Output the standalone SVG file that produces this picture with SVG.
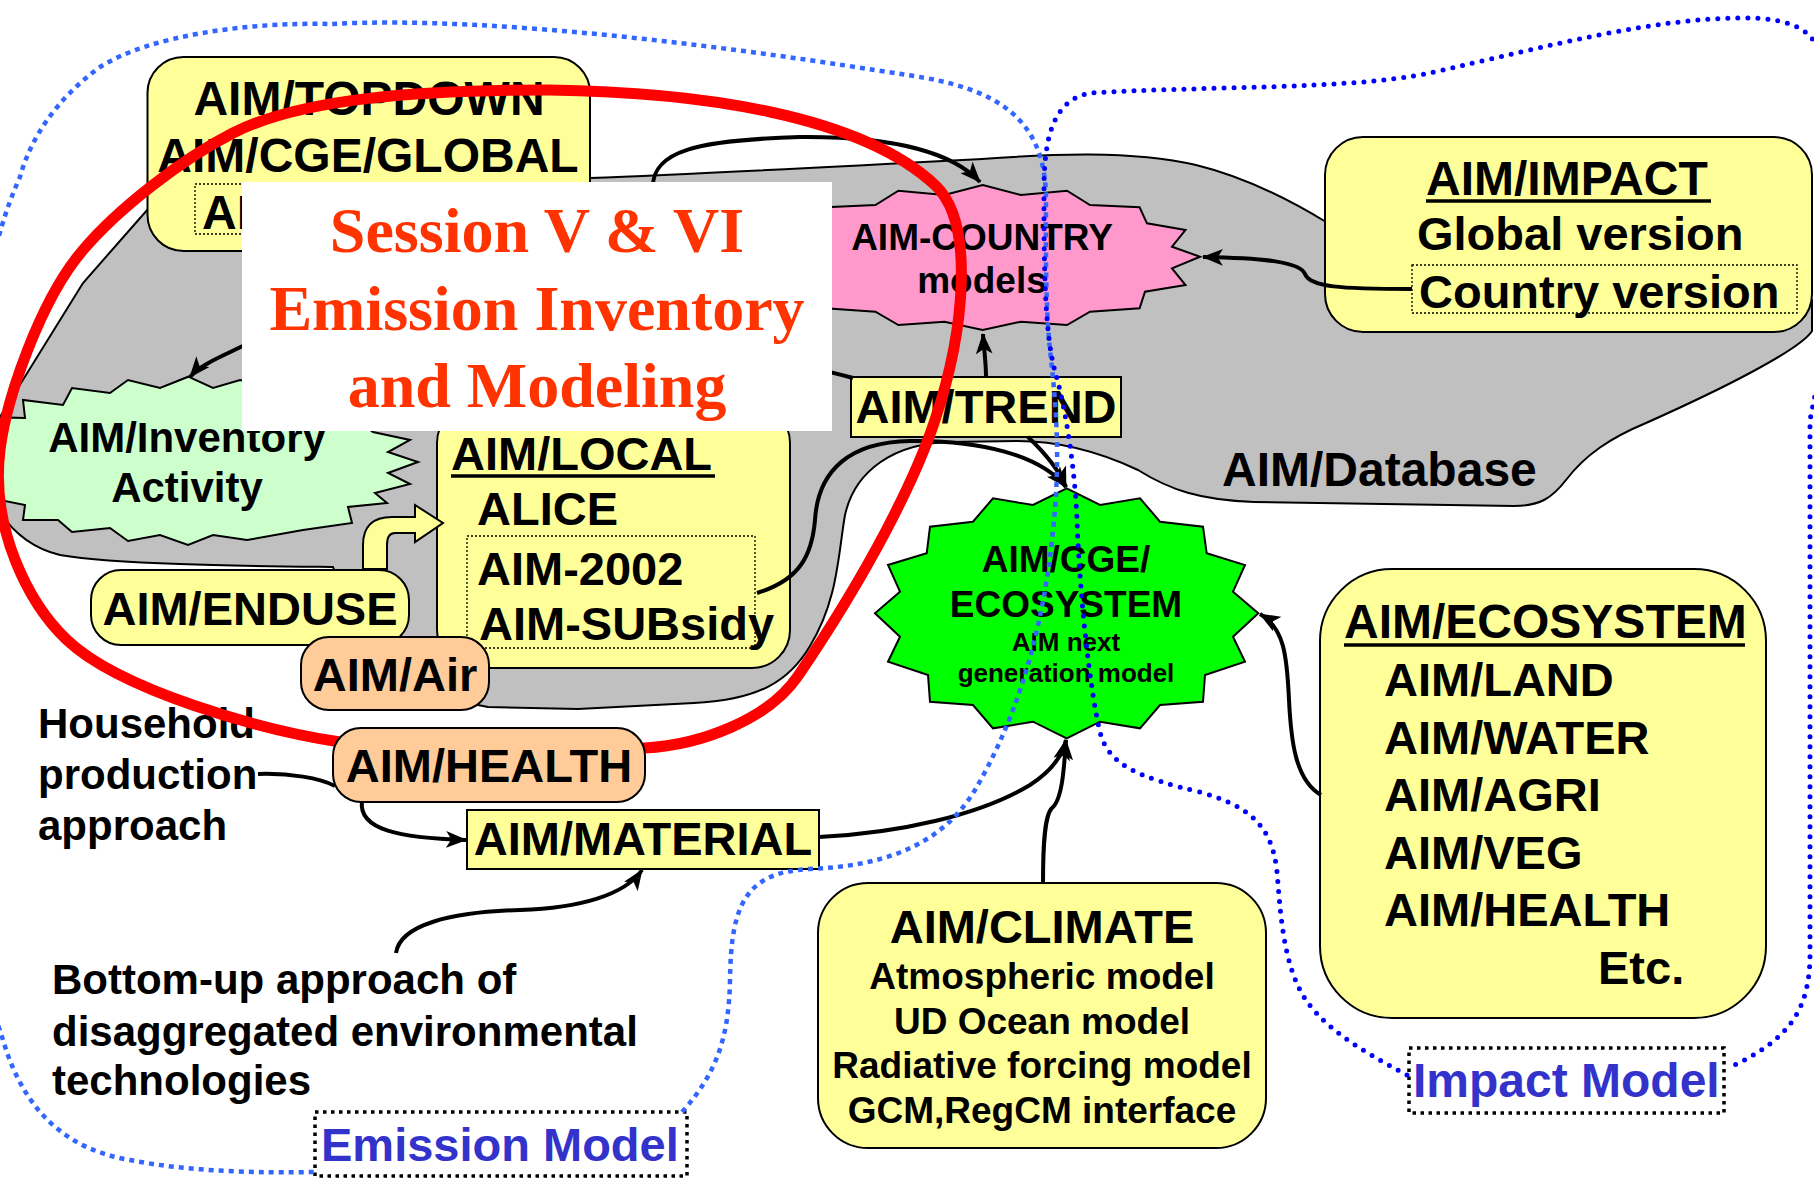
<svg xmlns="http://www.w3.org/2000/svg" width="1814" height="1179" viewBox="0 0 1814 1179">
<defs>
<style>
.t{font-family:"Liberation Sans",Arial,sans-serif;font-weight:bold;fill:#000}
.yb{fill:#FFFF99;stroke:#000;stroke-width:2}
.pb{fill:#FFCC99;stroke:#000;stroke-width:2}
.conn{fill:none;stroke:#000;stroke-width:4;marker-end:url(#arr)}
.line{fill:none;stroke:#000;stroke-width:4}
.dotbox{fill:none;stroke:#000;stroke-width:1.3;stroke-dasharray:2 2}
.mbox{fill:none;stroke:#000;stroke-width:3.5;stroke-dasharray:3.5 4.5}
.ul{stroke:#000;stroke-width:3.5}
.red{font-family:"Liberation Serif","Times New Roman",serif;font-weight:bold;fill:#FF3300;font-size:64px}
.blue{fill:#3333CC}
</style>
<marker id="arr" viewBox="0 0 20 16" refX="19" refY="8" markerWidth="21" markerHeight="17" markerUnits="userSpaceOnUse" orient="auto"><path d="M0,0 L20,8 L0,16 L5,8 z" fill="#000"/></marker>
</defs>
<rect width="1814" height="1179" fill="#fff"/>

<g id="region-database">
<path d="M590,178 C700,174 850,166 982,159 C1050,154 1130,150 1196,165 C1245,177 1290,200 1326,222 L1600,230 L1812,300 L1812,331 C1800,350 1720,390 1646,423 C1610,438 1585,455 1566,480 C1552,498 1540,506 1514,506 L1254,502 C1200,500 1170,490 1138,470 C1100,452 1060,441 1017,441 L950,442 C895,443 855,470 845,515 C838,555 838,600 810,646 C790,680 760,700 694,703 L578,709 L488,707 L350,680 L350,620 L333,567 C250,566 120,565 60,555 C30,548 10,530 -5,505 L-5,425 L83,283 L148,209 L300,200 Z" fill="#C0C0C0" stroke="#000" stroke-width="2"/>
<text class="t" x="1222" y="486" font-size="48">AIM/Database</text>
</g>

<g id="node-topdown">
<rect class="yb" x="147.5" y="57" width="442.5" height="194" rx="36"/>
<text class="t" x="369" y="115" font-size="48" text-anchor="middle">AIM/TOPDOWN</text>
<text class="t" x="368" y="172" font-size="48" text-anchor="middle">AIM/CGE/GLOBAL</text>
<rect class="dotbox" x="195" y="184" width="380" height="50"/>
<text class="t" x="202" y="229" font-size="48">AI</text>
</g>

<g id="node-country">
<polygon points="982.7,185 1021,195 1067,190.7 1090,205 1139.6,207.3 1147,223.3 1185.5,230 1172,246.7 1200,256.7 1172,268.3 1185.5,285 1145,291.7 1139.6,308.3 1090,311.7 1067,325 1021,321.7 982.7,330 944.4,321.7 898.4,325 875.4,311.7 825.8,308.3 820.4,291.7 779.9,285 793.4,268.3 765.4,256.7 793.4,246.7 779.9,230 818.4,223.3 825.8,207.3 875.4,205 898.4,190.7 944.4,195" fill="#FF99CC" stroke="#000" stroke-width="2"/>
<text class="t" x="982" y="250" font-size="37" text-anchor="middle">AIM-COUNTRY</text>
<text class="t" x="982" y="293" font-size="37" text-anchor="middle">models</text>
</g>

<g id="node-inventory">
<polygon points="188.3,376.7 213,388 240,380 290,392 320,382 345,400 370,405 360,422 373,432 410,440 388,452 418,462 388,473 410,484 375,493 387,503 348,507 352,523 303,530 247,540 213,535 188,545 160,535 128,541 110,528 72,532 58,520 23,520 25,505 -15,497 -15,417 25,418 23,400 63,405 72,388 110,393 128,380 160,388" fill="#CCFFCC" stroke="#000" stroke-width="2"/>
<text class="t" x="187" y="452" font-size="42" text-anchor="middle">AIM/Inventory</text>
<text class="t" x="187" y="502" font-size="42" text-anchor="middle">Activity</text>
</g>

<g id="node-local">
<rect class="yb" x="437" y="405" width="353" height="263" rx="38"/>
<text class="t" x="451" y="470" font-size="47">AIM/LOCAL</text>
<line class="ul" x1="451" y1="476" x2="715" y2="476"/>
<text class="t" x="477" y="525" font-size="47">ALICE</text>
<rect class="dotbox" x="467" y="536" width="288" height="112"/>
<text class="t" x="477" y="585" font-size="47">AIM-2002</text>
<text class="t" x="479" y="640" font-size="47">AIM-SUBsidy</text>
</g>

<g id="node-enduse">
<rect class="yb" x="91" y="570" width="318" height="75" rx="30"/>
<text class="t" x="250" y="625" font-size="47" text-anchor="middle">AIM/ENDUSE</text>
</g>

<g id="node-air">
<rect class="pb" x="301" y="637" width="188" height="73" rx="28"/>
<text class="t" x="395" y="691" font-size="47" text-anchor="middle">AIM/Air</text>
</g>

<g id="node-trend">
<rect class="yb" x="851" y="377" width="270" height="60"/>
<text class="t" x="986" y="423" font-size="47" text-anchor="middle">AIM/TREND</text>
</g>

<g id="node-material">
<rect class="yb" x="467" y="810" width="352" height="59"/>
<text class="t" x="643" y="855" font-size="47" text-anchor="middle">AIM/MATERIAL</text>
</g>

<g id="node-cge">
<polygon points="1066.7,488.3 1100,505 1140,498.3 1160,521.7 1203,526.7 1206.7,553.3 1245,565 1233,591.7 1258.3,613.3 1233,636.7 1245,661.7 1205,675 1203,701.7 1160,705 1140,728.3 1100,721.7 1066.7,738.3 1033,721.7 993,728.3 973,705 930,701.7 928,675 888,661.7 900,636.7 875,613.3 900,591.7 888,565 926.7,553.3 930,526.7 973,521.7 993,498.3 1033,505" fill="#00FF00" stroke="#000" stroke-width="2"/>
<text class="t" x="1066" y="572" font-size="37" text-anchor="middle">AIM/CGE/</text>
<text class="t" x="1066" y="617" font-size="37" text-anchor="middle">ECOSYSTEM</text>
<text class="t" x="1066" y="651" font-size="26" text-anchor="middle">AIM next</text>
<text class="t" x="1066" y="682" font-size="26" text-anchor="middle">generation model</text>
</g>

<g id="node-impact">
<rect class="yb" x="1325" y="137" width="487" height="195" rx="38"/>
<text class="t" x="1426" y="195" font-size="48">AIM/IMPACT</text>
<line class="ul" x1="1426" y1="201" x2="1711" y2="201"/>
<text class="t" x="1417" y="250" font-size="47">Global version</text>
<rect class="dotbox" x="1412" y="265" width="385" height="48"/>
<text class="t" x="1419" y="308" font-size="47">Country version</text>
</g>

<g id="node-ecosystem">
<rect class="yb" x="1320" y="569" width="446" height="449" rx="72"/>
<text class="t" x="1344" y="638" font-size="48">AIM/ECOSYSTEM</text>
<line class="ul" x1="1344" y1="645" x2="1745" y2="645"/>
<text class="t" x="1384" y="696" font-size="47">AIM/LAND</text>
<text class="t" x="1384" y="754" font-size="47">AIM/WATER</text>
<text class="t" x="1384" y="811" font-size="47">AIM/AGRI</text>
<text class="t" x="1384" y="869" font-size="47">AIM/VEG</text>
<text class="t" x="1384" y="926" font-size="47">AIM/HEALTH</text>
<text class="t" x="1598" y="984" font-size="47">Etc.</text>
</g>

<g id="node-climate">
<rect class="yb" x="818" y="883" width="448" height="265" rx="50"/>
<text class="t" x="1042" y="943" font-size="47" text-anchor="middle">AIM/CLIMATE</text>
<text class="t" x="1042" y="989" font-size="37" text-anchor="middle">Atmospheric model</text>
<text class="t" x="1042" y="1034" font-size="37" text-anchor="middle">UD Ocean model</text>
<text class="t" x="1042" y="1078" font-size="37" text-anchor="middle">Radiative forcing model</text>
<text class="t" x="1042" y="1123" font-size="37" text-anchor="middle">GCM,RegCM interface</text>
</g>

<g id="label-household">
<text class="t" x="38" y="738" font-size="42">Household</text>
<text class="t" x="38" y="789" font-size="42">production</text>
<text class="t" x="38" y="840" font-size="42">approach</text>
</g>

<g id="label-bottomup">
<text class="t" x="52" y="994" font-size="42">Bottom-up approach of</text>
<text class="t" x="52" y="1046" font-size="42">disaggregated environmental</text>
<text class="t" x="52" y="1095" font-size="42">technologies</text>
</g>

<g id="node-emission-model">
<rect class="mbox" x="315" y="1112" width="372" height="64"/>
<text class="t blue" x="321" y="1161" font-size="47">Emission Model</text>
</g>

<g id="node-impact-model">
<rect class="mbox" x="1409" y="1048" width="315" height="65"/>
<text class="t blue" x="1413" y="1097" font-size="48">Impact Model</text>
</g>

<g id="connectors">
<path class="conn" d="M653,190 C650,150 700,140 800,137 C900,136 955,155 980,182"/>
<path class="conn" d="M1412,289 C1340,289 1310,287 1305,274 C1300,262 1265,258 1203,257"/>
<path class="conn" d="M986,377 C986,362 984,350 983,334"/>
<path class="conn" d="M853,378 C700,335 300,318 245,345 C220,357 200,365 190,377"/>
<path class="conn" d="M1028,437 C1045,453 1058,468 1066,487"/>
<path class="conn" d="M757,593 C800,580 812,555 815,520 C818,470 850,442 910,441 C980,440 1040,455 1066,487"/>
<path class="conn" d="M819,837 C900,833 980,815 1030,785 C1050,772 1062,758 1066,740"/>
<path class="conn" d="M1043,884 C1043,840 1045,815 1052,808 C1062,800 1064,770 1066,740"/>
<path class="conn" d="M1321,795 C1295,780 1291,740 1289,700 C1287,655 1284,628 1260,614"/>
<path class="conn" d="M362,801 C358,830 400,838 466,840"/>
<path class="line" d="M258,774 C290,773 320,778 335,786"/>
<path class="conn" d="M396,953 C400,925 450,912 520,910 C580,908 625,895 642,870"/>
<path d="M363,569 L363,545 Q363,517 392,517 L415,517 L415,505 L443,523 L415,542 L415,533 L395,533 Q387,533 387,545 L387,569 Z" fill="#FFFF99" stroke="#000" stroke-width="2"/>
</g>

<g id="session-box">
<rect x="242" y="182" width="590" height="249" fill="#fff"/>
<text class="red" x="537" y="252" text-anchor="middle">Session V &amp; VI</text>
<text class="red" x="537" y="330" text-anchor="middle">Emission Inventory</text>
<text class="red" x="537" y="407" text-anchor="middle">and Modeling</text>
</g>

<g id="region-emission">
<path d="M682,1112 C715,1075 729,1040 730,980 C731,905 745,872 810,869 C880,866 940,848 975,790 C1010,730 1040,650 1052,540 C1060,470 1058,420 1050,350 C1045,300 1046,240 1046,200 C1046,120 1000,88 907,75 C750,50 500,15 330,24 C250,22 150,35 100,67 C55,100 30,140 20,177 C5,210 -30,300 -30,500 L-30,800 C-30,950 -10,1000 3,1040 C25,1115 70,1150 130,1160 C190,1172 260,1173 315,1172" fill="none" stroke="#3366FF" stroke-width="4.5" stroke-dasharray="5 5"/>
</g>

<g id="region-impact">
<path d="M1407,1075 C1360,1050 1318,1025 1300,990 C1282,955 1280,905 1277,872 C1272,822 1245,805 1200,792 C1140,778 1108,765 1100,732 C1090,690 1080,600 1077,520 C1075,470 1066,410 1056,375 C1044,335 1044,260 1044,190 C1044,140 1052,100 1090,93 C1200,86 1350,90 1430,73 C1550,46 1650,18 1745,18 C1790,18 1812,30 1818,50 L1818,380 L1810,420 L1810,960 C1808,1010 1790,1040 1728,1068" fill="none" stroke="#0000FF" stroke-width="5" stroke-linecap="round" stroke-dasharray="0 10"/>
</g>

<g id="red-loop">
<path d="M340,742 C260,730 120,690 67,640 C30,605 -10,530 0,450 C6,400 40,300 83,250 C117,210 180,160 233,133 C302,98 420,90 549,90 C700,92 860,115 935,185 C975,222 965,330 935,420 C915,480 870,570 798,676 C768,720 700,745 645,748 Z" fill="none" stroke="#FF0000" stroke-width="11"/>
</g>

<g id="node-health">
<rect class="pb" x="333" y="728" width="312" height="74" rx="28"/>
<text class="t" x="489" y="782" font-size="47" text-anchor="middle">AIM/HEALTH</text>
</g>
</svg>
